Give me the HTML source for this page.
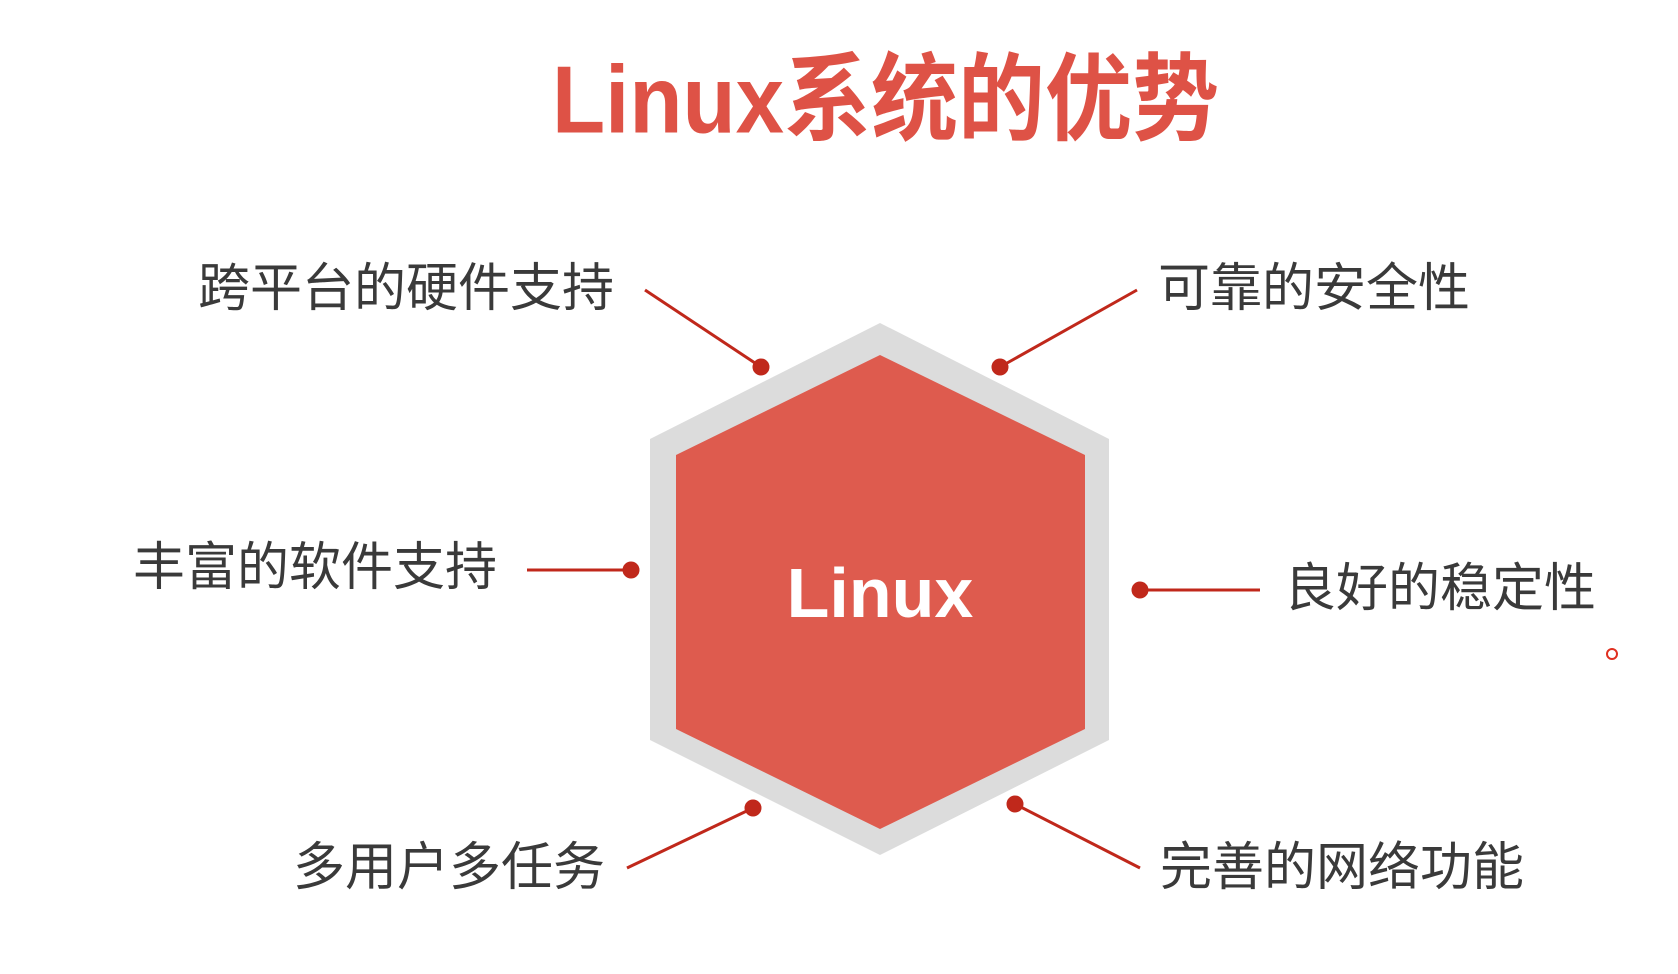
<!DOCTYPE html>
<html><head><meta charset="utf-8"><style>
html,body{margin:0;padding:0;background:#fff;}
body{width:1678px;height:974px;position:relative;overflow:hidden;font-family:"Liberation Sans","Noto Sans CJK SC",sans-serif;}
.t{position:absolute;white-space:nowrap;color:#3a3a3a;font-size:52px;line-height:1;}
</style></head><body>
<div class="t" style="left:552px;top:52px;font-size:87px;font-weight:bold;color:#de5246;transform:scaleY(1.1);transform-origin:left top;">Linux系统的优势</div>
<svg width="1678" height="974" style="position:absolute;left:0;top:0">
<g transform="translate(-4,-2)">
<polygon points="884,325 1113,441 1113,742 884,857 654,742 654,441" fill="#dcdcdc"/>
<polygon points="884,357 1089,457 1089,731 884,831 680,731 680,457" fill="#de5b4e"/>
<text x="884" y="619" text-anchor="middle" font-family="Liberation Sans" font-weight="bold" font-size="70" fill="#fff">Linux</text>
</g>
<g stroke="#c0281b" stroke-width="3" fill="#c0281b">
<line x1="645" y1="290" x2="761" y2="367"/><circle cx="761" cy="367" r="7"/>
<line x1="1137" y1="290" x2="1000" y2="367"/><circle cx="1000" cy="367" r="7"/>
<line x1="527" y1="570" x2="631" y2="570"/><circle cx="631" cy="570" r="7"/>
<line x1="1140" y1="590" x2="1260" y2="590"/><circle cx="1140" cy="590" r="7"/>
<line x1="627" y1="868" x2="753" y2="808"/><circle cx="753" cy="808" r="7"/>
<line x1="1140" y1="868" x2="1015" y2="804"/><circle cx="1015" cy="804" r="7"/>
</g>
<circle cx="1612" cy="654" r="5" fill="none" stroke="#e03020" stroke-width="2"/>
</svg>
<div class="t" style="left:198px;top:263px;">跨平台的硬件支持</div>
<div class="t" style="left:1158px;top:263px;">可靠的安全性</div>
<div class="t" style="left:133px;top:542px;">丰富的软件支持</div>
<div class="t" style="left:1284px;top:563px;">良好的稳定性</div>
<div class="t" style="left:293px;top:842px;">多用户多任务</div>
<div class="t" style="left:1160px;top:842px;">完善的网络功能</div>
</body></html>
